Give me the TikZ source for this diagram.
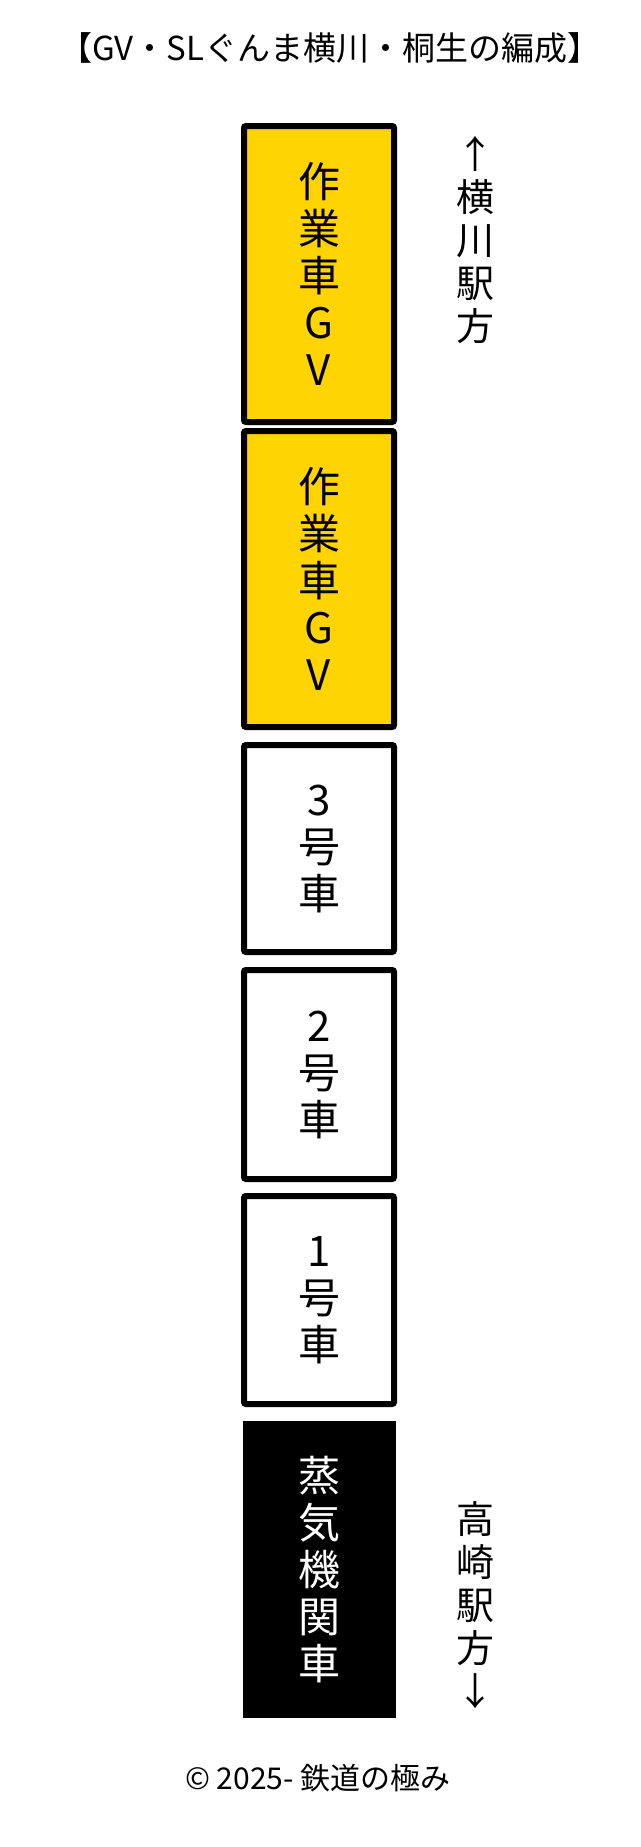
\documentclass[tikz,border=0pt]{standalone}
\usepackage{fontspec}
\setmainfont{Noto Sans CJK JP}
\definecolor{gvy}{RGB}{255,212,0}
\tikzset{
 car/.style={draw=black,line width=6pt,rounded corners=2pt,minimum width=150pt,inner sep=0pt,align=center,font=\fontsize{42}{47}\selectfont},
 loco/.style={fill=black,text=white,minimum width=153pt,inner sep=0pt,align=center,font=\fontsize{42}{47}\selectfont},
 side/.style={align=center,inner sep=0pt,font=\fontsize{38}{43}\selectfont}
}
\begin{document}
\begin{tikzpicture}[x=1pt,y=-1pt]
\useasboundingbox (0,0) rectangle (640,1847);
\node (title) at (330,48) {\fontsize{33}{36}\selectfont 【GV・SLぐんま横川・桐生の編成】};
\node[car,fill=gvy,minimum height=296pt] (gv1) at (319,274) {作\\業\\車\\G\\V};
\node[car,fill=gvy,minimum height=296pt] (gv2) at (319,579) {作\\業\\車\\G\\V};
\node[car,fill=white,minimum height=207pt] (c3) at (319,848.5) {3\\号\\車};
\node[car,fill=white,minimum height=209pt] (c2) at (319,1074.5) {2\\号\\車};
\node[car,fill=white,minimum height=208pt] (c1) at (319,1300) {1\\号\\車};
\node[loco,minimum height=297pt] (sl) at (319.5,1569.5) {蒸\\気\\機\\関\\車};
\node[side] (up) at (475,240) {↑\\横\\川\\駅\\方};
\node[side] (down) at (475,1605) {高\\崎\\駅\\方\\↓};
\node (copy) at (318,1778) {\fontsize{30}{34}\selectfont © 2025- 鉄道の極み};
\end{tikzpicture}
\end{document}
